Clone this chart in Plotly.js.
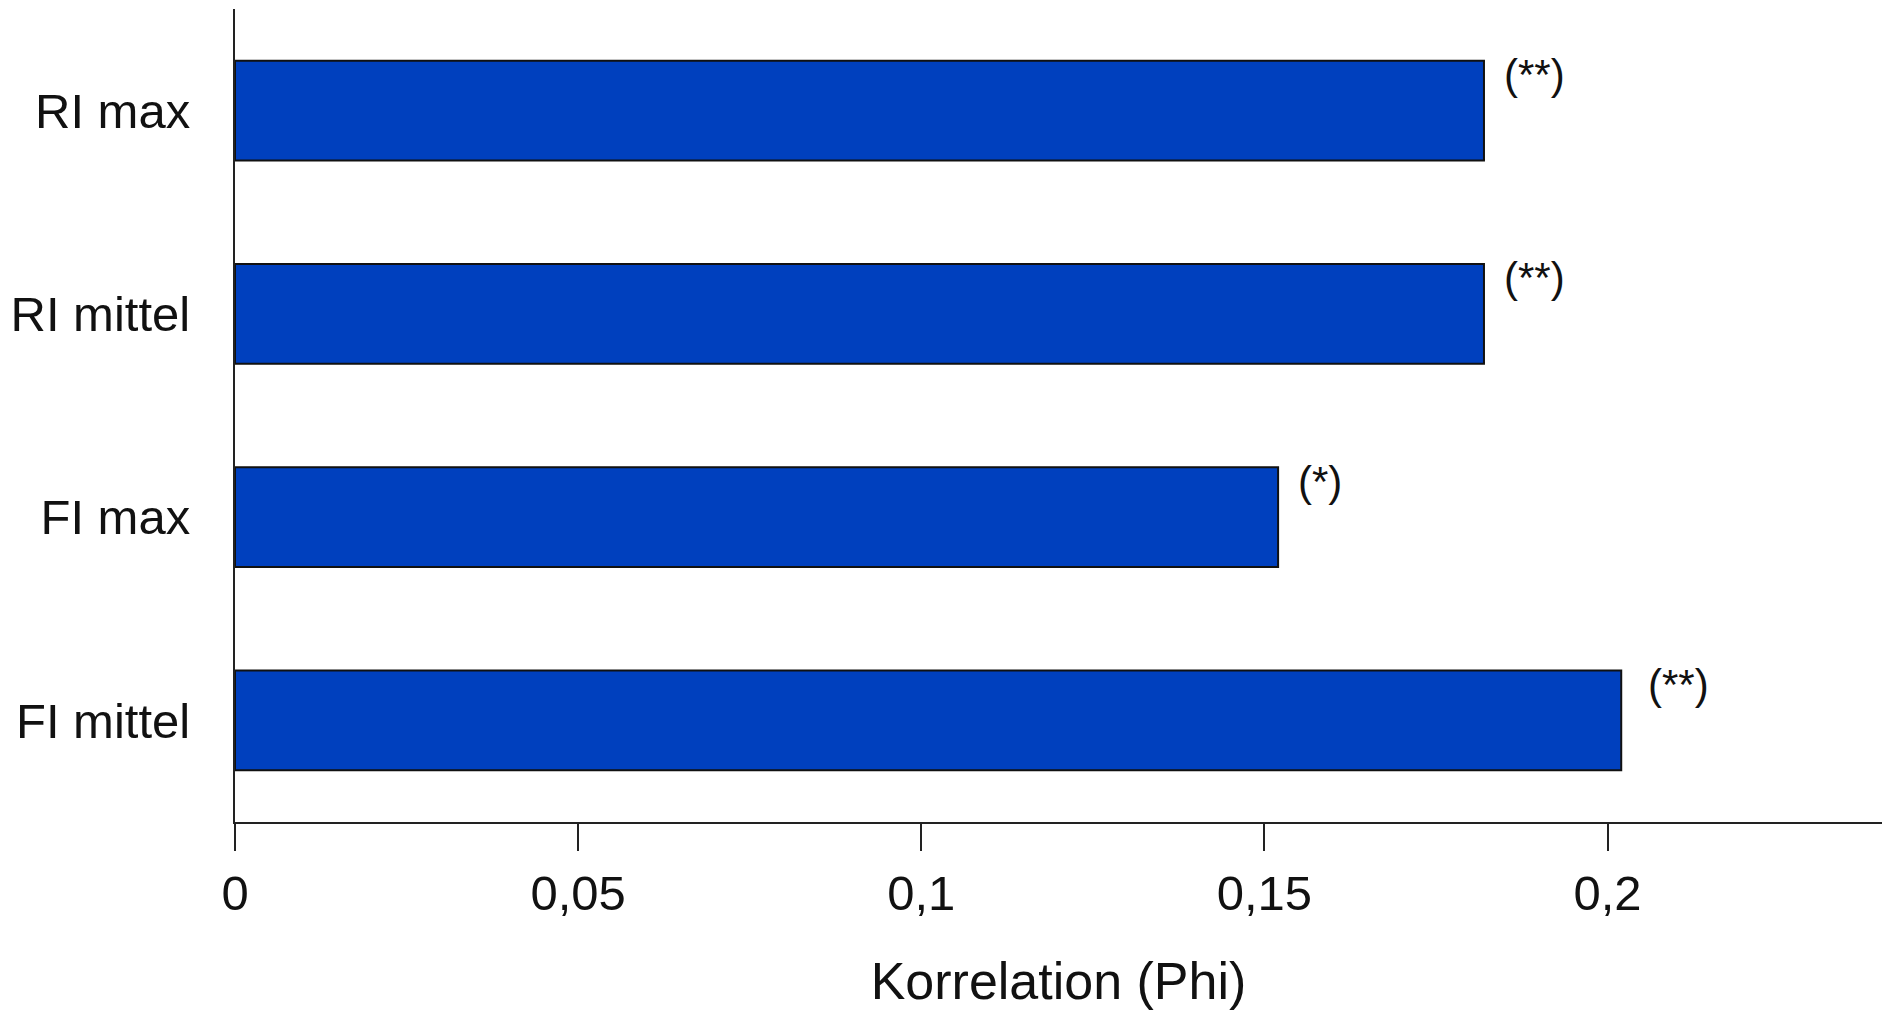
<!DOCTYPE html>
<html>
<head>
<meta charset="utf-8">
<script src="https://cdn.plot.ly/plotly-3.0.1.min.js"></script>
<style>html,body{margin:0;padding:0;background:#fff;}#chart{width:1887px;height:1013px;}</style>
</head>
<body>
<div id="chart"></div>
<script>
const categories = ["RI max", "RI mittel", "FI max", "FI mittel"];
const phiValues = [0.182, 0.182, 0.152, 0.202];
const significance = ["(**)", "(**)", "(*)", "(**)"];
const xTickValues = [0, 0.05, 0.1, 0.15, 0.2];
const xAxisTitle = "Korrelation (Phi)";

const fontFamily = "Arial, 'Liberation Sans', sans-serif";

const trace = {
  type: "bar",
  orientation: "h",
  x: phiValues,
  y: categories,
  width: 0.49,
  marker: { color: "#0040BE", line: { color: "#111", width: 2 } },
  hoverinfo: "x+y"
};

const annotations = categories.map((c, i) => ({
  x: phiValues[i],
  y: c,
  xref: "x",
  yref: "y",
  text: significance[i],
  showarrow: false,
  xanchor: "left",
  yanchor: "middle",
  xshift: i === 3 ? 25 : 18,
  yshift: 36,
  font: { family: fontFamily, size: 42, color: "#111" }
}));

const layout = {
  width: 1887,
  height: 1013,
  margin: { l: 235, r: 5, t: 9, b: 191 },
  paper_bgcolor: "#fff",
  plot_bgcolor: "#fff",
  separators: ", ",
  showlegend: false,
  font: { family: fontFamily, color: "#111" },
  xaxis: {
    range: [0, 0.24],
    tickvals: xTickValues,
    showgrid: false,
    zeroline: false,
    showline: true,
    linecolor: "#222",
    linewidth: 2,
    ticks: "outside",
    ticklen: 27,
    tickwidth: 2,
    tickcolor: "#222",
    tickfont: { family: fontFamily, size: 49, color: "#111" },
    title: { text: xAxisTitle, font: { family: fontFamily, size: 52, color: "#111" }, standoff: 44 }
  },
  yaxis: {
    type: "category",
    categoryorder: "array",
    categoryarray: categories,
    range: [3.5, -0.5],
    showgrid: false,
    zeroline: false,
    showline: true,
    linecolor: "#222",
    linewidth: 2,
    ticks: "",
    ticklabelstandoff: 33,
    tickfont: { family: fontFamily, size: 49, color: "#111" }
  },
  bargap: 0.51,
  annotations: annotations
};

Plotly.newPlot("chart", [trace], layout, { displayModeBar: false, staticPlot: true });
</script>
</body>
</html>
